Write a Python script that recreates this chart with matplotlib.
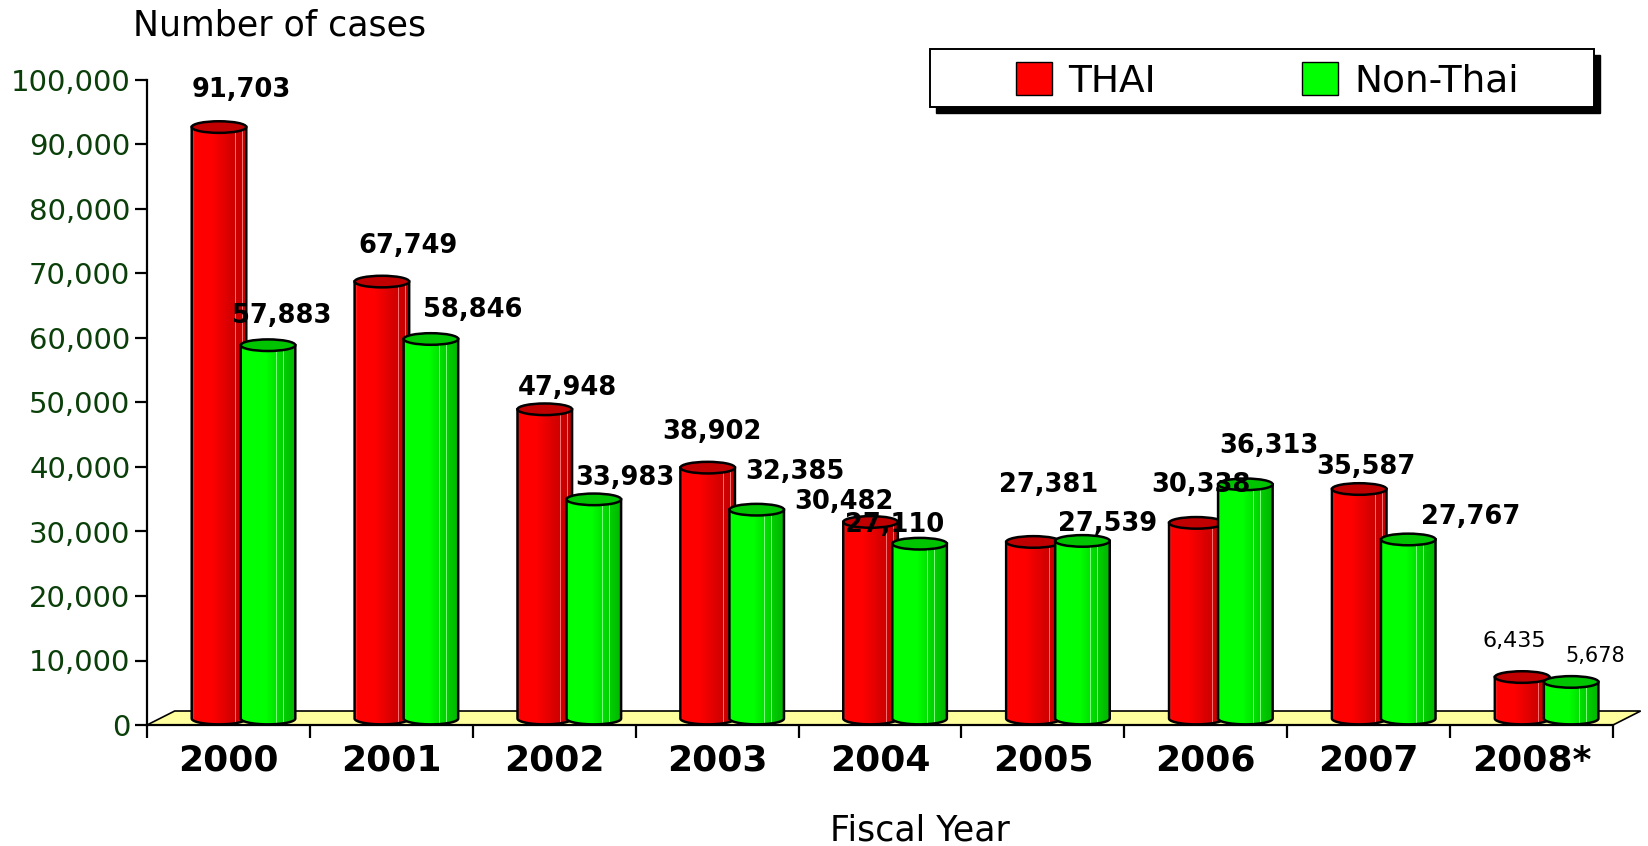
import numpy as np
import matplotlib
matplotlib.use('Agg')
import matplotlib.pyplot as plt
from matplotlib.patches import Ellipse, Polygon, Rectangle, Patch
from matplotlib.colors import to_rgb

years = ['2000', '2001', '2002', '2003', '2004', '2005', '2006', '2007', '2008*']
thai = [91703, 67749, 47948, 38902, 30482, 27381, 30338, 35587, 6435]
non_thai = [57883, 58846, 33983, 32385, 27110, 27539, 36313, 27767, 5678]

# where each value label sits, in pixels from the top of its bar
thai_lbl_off = [(22, 44), (26, 42), (23, 28), (4, 42), (-27, 26), (15, 63), (5, 44), (7, 28), (-8, 42)]
non_thai_lbl_off = [(14, 36), (42, 35), (31, 28), (38, 44), (-25, 25), (25, 23), (24, 45), (62, 29), (24, 32)]

RED_STOPS = [(0, '#ff3a3a'), (0.05, '#ff0000'), (0.35, '#ff0000'), (0.7, '#d60000'), (1, '#c20000')]
GREEN_STOPS = [(0, '#00ff00'), (0.45, '#00ff00'), (0.75, '#00d400'), (1, '#00b400')]


def shade(stops, stripes, stripe_col, n=90):
    f = np.linspace(0, 1, n)
    pos = [s[0] for s in stops]
    cols = np.array([to_rgb(s[1]) for s in stops])
    img = np.stack([np.interp(f, pos, cols[:, k]) for k in range(3)], axis=-1)
    for p in stripes:
        img[int(p * (n - 1))] = to_rgb(stripe_col)
    return img[None, :, :]


def cylinder(ax, rect, img, top_col, z, cap_h=1800):
    x0, w = rect.get_x(), rect.get_width()
    base = rect.get_y()
    top = base + rect.get_height()
    xc = x0 + w / 2
    t = np.linspace(np.pi, 2 * np.pi, 40)
    arc = np.column_stack([xc + w / 2 * np.cos(t), base + cap_h / 2 * np.sin(t)])
    pts = np.vstack([[x0, top], arc, [x0 + w, top]])
    body = Polygon(pts, closed=True, facecolor='none', edgecolor='black', lw=1.8, zorder=z + 0.1)
    ax.add_patch(body)
    im = ax.imshow(img, extent=(x0, x0 + w, base - cap_h / 2, top), aspect='auto',
                   interpolation='nearest', zorder=z)
    im.set_clip_path(body)
    ax.add_patch(Ellipse((xc, top), w, cap_h, facecolor=top_col, edgecolor='black',
                         lw=1.8, zorder=z + 0.2))


fig = plt.figure(figsize=(16.48, 8.46), dpi=100)
ax = fig.add_axes([147 / 1648, 1 - 725 / 846, 1466 / 1648, 645 / 846])
ax.patch.set_visible(False)

x = np.arange(len(years))
width = 0.335
base = 1000

# floor
dx, dy = 0.17, 2170
floor = Polygon([[0, 0], [len(years), 0], [len(years) + dx, dy], [dx, dy]], closed=True,
                facecolor='#ffff9e', edgecolor='black', lw=1.2, clip_on=False, zorder=1)
ax.add_patch(floor)

red_img = shade(RED_STOPS, [0.8, 0.93], '#f27070')
green_img = shade(GREEN_STOPS, [0.66, 0.78, 0.88], '#7cff7c')

bars_t = ax.bar(x + 0.442, thai, width, bottom=base, facecolor='none', edgecolor='none')
bars_n = ax.bar(x + 0.743, non_thai, width, bottom=base, facecolor='none', edgecolor='none')
for i in range(len(years)):
    cylinder(ax, bars_t[i], red_img, '#c00000', 3)
    cylinder(ax, bars_n[i], green_img, '#00c400', 4)

for i in range(len(years)):
    for rect, val, off in ((bars_t[i], thai[i], thai_lbl_off[i]), (bars_n[i], non_thai[i], non_thai_lbl_off[i])):
        last = i == len(years) - 1
        ax.annotate(f'{val:,}', (rect.get_x() + rect.get_width() / 2, val),
                    xytext=off, textcoords='offset pixels', ha='center', va='center',
                    fontsize=(16 if val == thai[i] else 15) if last else 18.5,
                    fontweight='normal' if last else 'bold', color='black',
                    zorder=10, annotation_clip=False)

ax.set_xlim(0, len(years))
ax.set_ylim(0, 100000)
ax.set_yticks(np.arange(0, 100001, 10000))
ax.set_yticklabels([f'{v:,}' for v in range(0, 100001, 10000)])
ax.tick_params(axis='y', direction='out', length=9, width=1.6, pad=3,
               labelsize=21, labelcolor='#0a3f0a')
ax.set_xticks(np.arange(0, len(years) + 1))
ax.set_xticklabels([])
ax.set_xticks(x + 0.5, minor=True)
ax.set_xticklabels(years, minor=True, fontsize=26, fontweight='bold')
ax.tick_params(axis='x', which='major', direction='out', length=9, width=1.6)
ax.tick_params(axis='x', which='minor', length=0, pad=13)
for s in ('top', 'right'):
    ax.spines[s].set_visible(False)
ax.spines['left'].set_linewidth(1.6)
ax.spines['bottom'].set_linewidth(1.6)
ax.spines['bottom'].set_zorder(2)

fig.text(280 / 1648, 1 - 25 / 846, 'Number of cases', ha='center', va='center', fontsize=25)
fig.text(920 / 1648, 1 - 830 / 846, 'Fiscal Year', ha='center', va='center', fontsize=25)

# legend frame with hard black shadow
lx, ly, lw_, lh = 930 / 1648, 1 - 107 / 846, 664 / 1648, 58 / 846
ax.add_patch(Rectangle((lx + 6 / 1648, ly - 6 / 846), lw_, lh, transform=fig.transFigure,
                       facecolor='black', edgecolor='black', zorder=18, clip_on=False))
ax.add_patch(Rectangle((lx, ly), lw_, lh, transform=fig.transFigure,
                       facecolor='white', edgecolor='black', lw=1.4, zorder=19, clip_on=False))
handles = [Patch(facecolor='#ff0000', edgecolor='black'), Patch(facecolor='#00ff00', edgecolor='black')]
leg = ax.legend(handles, ['THAI', 'Non-Thai'], ncol=2, frameon=False, loc='center left',
                bbox_to_anchor=(1016 / 1648, 1 - 81 / 846), bbox_transform=fig.transFigure,
                borderpad=0, borderaxespad=0, fontsize=27, handlelength=0.95, handleheight=0.95,
                handletextpad=0.45, columnspacing=3.9)
leg.set_zorder(20)

fig.savefig('out.png', dpi=100, facecolor='white')
